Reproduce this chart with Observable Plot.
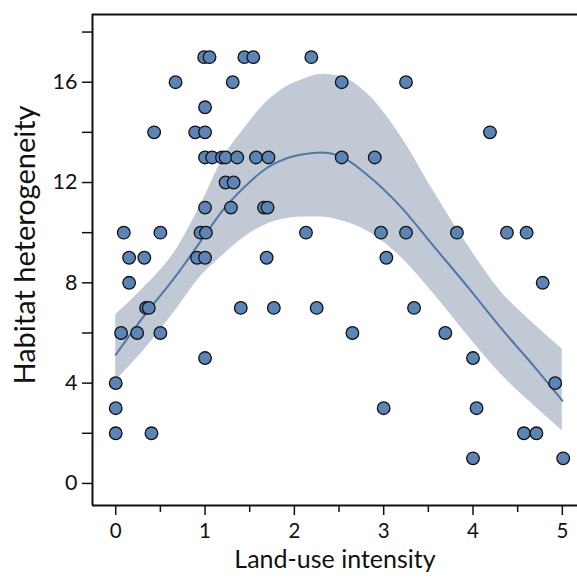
<!DOCTYPE html>
<html>
<head>
<meta charset="utf-8">
<script src="https://cdn.jsdelivr.net/npm/d3@7"></script>
<script src="https://cdn.jsdelivr.net/npm/@observablehq/plot@0.6"></script>
<style>
  html, body { margin: 0; padding: 0; background: #fff; }
  #chart svg { display: block; }
</style>
</head>
<body>
<div id="chart"></div>
<script>
// Observed points: land-use intensity (x) and habitat heterogeneity (y)
const pointX = [
  0.99, 1.05, 1.44, 1.54, 2.19,
  0.67, 1.31, 2.53, 3.25,
  1.00,
  0.43, 0.89, 1.00, 4.19,
  1.00, 1.08, 1.19, 1.23, 1.36, 1.57, 1.71, 2.53, 2.90,
  1.23, 1.32,
  1.00, 1.29, 1.66, 1.70,
  0.09, 0.50, 0.95, 1.01, 2.13, 2.97, 3.25, 3.82, 4.38, 4.60,
  0.15, 0.32, 0.91, 1.00, 1.69, 3.03,
  0.15, 4.78,
  0.34, 0.37, 1.40, 1.77, 2.25, 3.34,
  0.06, 0.24, 0.50, 2.65, 3.69,
  1.00, 4.00,
  0.00, 4.92,
  0.00, 3.00, 4.04,
  0.00, 0.40, 4.57, 4.71,
  4.00, 5.01
];
const pointY = [
  17, 17, 17, 17, 17,
  16, 16, 16, 16,
  15,
  14, 14, 14, 14,
  13, 13, 13, 13, 13, 13, 13, 13, 13,
  12, 12,
  11, 11, 11, 11,
  10, 10, 10, 10, 10, 10, 10, 10, 10, 10,
  9, 9, 9, 9, 9, 9,
  8, 8,
  7, 7, 7, 7, 7, 7,
  6, 6, 6, 6, 6,
  5, 5,
  4, 4,
  3, 3, 3,
  2, 2, 2, 2,
  1, 1
];

// Fitted curve with confidence band
const fitX     = [0,    0.3,  0.7,  0.95, 1.2,   1.45,  1.7,   1.9,   2.1,   2.3,   2.5,   2.8,   3.2,  3.55, 3.95, 4.3,  4.7,  5.0];
const fitMean  = [5.13, 6.6,  8.4,  9.65, 10.9,  11.85, 12.6,  12.95, 13.13, 13.2,  13.08, 12.35, 11.0, 9.5,  7.8,  6.25, 4.6,  3.3];
const fitUpper = [6.73, 7.75, 9.45, 11.1, 12.95, 14.2,  15.25, 15.8,  16.12, 16.32, 16.25, 15.6,  13.8, 11.7, 9.45, 7.7,  6.3,  5.35];
const fitLower = [4.1,  5.25, 7.05, 8.25, 9.1,   9.85,  10.35, 10.55, 10.62, 10.62, 10.5,  10.1,  9.0,  7.6,  5.85, 4.4,  3.05, 2.1];

const xMajorTicks = [0, 1, 2, 3, 4, 5];
const xMinorTicks = [0.5, 1.5, 2.5, 3.5, 4.5];
const yMajorTicks = [0, 4, 8, 12, 16];
const yMinorTicks = [2, 6, 10, 14, 18];

const xLabel = "Land-use intensity";
const yLabel = "Habitat heterogeneity";

const xDomain = [-0.26, 5.17];
const yDomain = [-0.88, 18.7];

const points = pointX.map((x, i) => ({x, y: pointY[i]}));
const fit = fitX.map((x, i) => ({x, mean: fitMean[i], lo: fitLower[i], hi: fitUpper[i]}));

const font = "Lato, 'Open Sans', sans-serif";

const chart = Plot.plot({
  width: 577,
  height: 581,
  marginLeft: 92,
  marginRight: 0,
  marginTop: 14,
  marginBottom: 76,
  style: {fontFamily: font, background: "#fff", color: "#111"},
  x: {domain: xDomain},
  y: {domain: yDomain},
  marks: [
    Plot.areaY(fit, {x: "x", y1: "lo", y2: "hi", fill: "#c1c9d5", curve: "monotone-x"}),
    Plot.lineY(fit, {x: "x", y: "mean", stroke: "#4f77a8", strokeWidth: 2, curve: "monotone-x"}),
    Plot.dot(points, {x: "x", y: "y", r: 6.3, fill: "#5b84b7", stroke: "#111", strokeWidth: 1.3}),
    // axes
    Plot.axisY({ticks: yMajorTicks, tickSize: 10, tickPadding: 5, fontSize: 21.5, label: null, tickFormat: d3.format("d"), strokeWidth: 1.5}),
    Plot.axisY({ticks: yMinorTicks, tickSize: 10, tickFormat: () => "", label: null, strokeWidth: 1.5}),
    Plot.axisX({ticks: xMajorTicks, tickSize: 10, tickPadding: 8, fontSize: 20.5, label: null, tickFormat: d3.format("d"), strokeWidth: 1.5}),
    Plot.axisX({ticks: xMinorTicks, tickSize: 7, tickFormat: () => "", label: null, strokeWidth: 1.5}),
    Plot.ruleX([xDomain[0]], {stroke: "#111", strokeWidth: 2}),
    Plot.ruleY([yDomain[0], yDomain[1]], {stroke: "#111", strokeWidth: 2}),
    Plot.text([xLabel], {text: d => d, frameAnchor: "bottom", textAnchor: "middle", dy: 62, fontSize: 25, fill: "#111"}),
    Plot.text([yLabel], {text: d => d, frameAnchor: "left", textAnchor: "middle", rotate: -90, dx: -67, dy: -15, fontSize: 29, fill: "#111"})
  ]
});

document.getElementById("chart").appendChild(chart);
</script>
</body>
</html>
